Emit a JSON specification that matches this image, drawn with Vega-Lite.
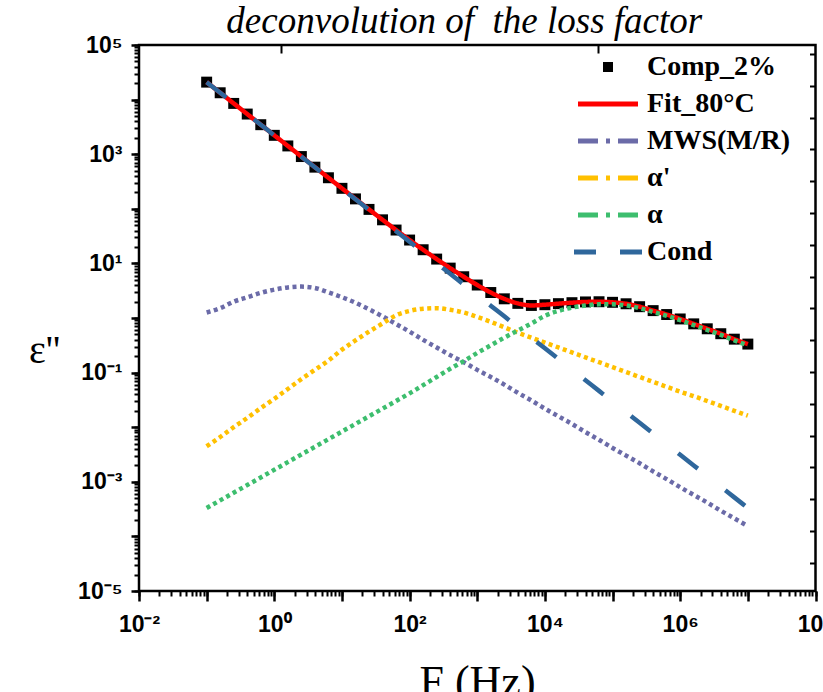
{
  "$schema": "https://vega.github.io/schema/vega-lite/v6.json",
  "width": 676.5,
  "height": 546,
  "autosize": {"type": "none"},
  "padding": {"left": 139, "top": 45, "right": 7.5, "bottom": 101},
  "background": "white",
  "title": {
    "text": "deconvolution of\u00a0 the loss factor",
    "font": "Liberation Serif",
    "fontStyle": "italic",
    "fontWeight": "normal",
    "fontSize": 37,
    "color": "black",
    "anchor": "middle",
    "frame": "group",
    "baseline": "alphabetic",
    "offset": 14,
    "dx": -13,
    "dy": 50
  },
  "data": {
    "values": [
      {"f": 0.1, "comp": 20891, "fit": 20891, "mws": 1.259, "ap": 0.004467, "a": 0.0003311, "cond": 20890},
      {"f": 0.1585, "comp": 13342, "fit": 13342, "mws": 1.514, "ap": 0.006607, "a": 0.0004571, "cond": 13340},
      {"f": 0.2512, "comp": 8513, "fit": 8513, "mws": 1.995, "ap": 0.01, "a": 0.000631, "cond": 8511},
      {"f": 0.3981, "comp": 5435, "fit": 5435, "mws": 2.399, "ap": 0.01479, "a": 0.000871, "cond": 5433},
      {"f": 0.631, "comp": 3470, "fit": 3470, "mws": 2.884, "ap": 0.02239, "a": 0.001202, "cond": 3467},
      {"f": 1, "comp": 2216, "fit": 2216, "mws": 3.311, "ap": 0.03311, "a": 0.00166, "cond": 2213},
      {"f": 1.585, "comp": 1417, "fit": 1417, "mws": 3.631, "ap": 0.05012, "a": 0.002291, "cond": 1413},
      {"f": 2.512, "comp": 905.4, "fit": 905.4, "mws": 3.758, "ap": 0.07586, "a": 0.003162, "cond": 901.6},
      {"f": 3.981, "comp": 579.1, "fit": 579.1, "mws": 3.548, "ap": 0.1122, "a": 0.004365, "cond": 575.4},
      {"f": 6.31, "comp": 370.4, "fit": 370.4, "mws": 2.951, "ap": 0.166, "a": 0.006026, "cond": 367.3},
      {"f": 10, "comp": 237.1, "fit": 237.1, "mws": 2.399, "ap": 0.263, "a": 0.008318, "cond": 234.4},
      {"f": 15.85, "comp": 151.9, "fit": 151.9, "mws": 1.905, "ap": 0.389, "a": 0.01148, "cond": 149.6},
      {"f": 25.12, "comp": 97.52, "fit": 97.52, "mws": 1.445, "ap": 0.5623, "a": 0.01585, "cond": 95.5},
      {"f": 39.81, "comp": 62.84, "fit": 62.84, "mws": 1.072, "ap": 0.7943, "a": 0.02188, "cond": 60.95},
      {"f": 63.1, "comp": 40.83, "fit": 40.83, "mws": 0.776, "ap": 1.122, "a": 0.0302, "cond": 38.9},
      {"f": 100, "comp": 26.78, "fit": 26.78, "mws": 0.5623, "ap": 1.349, "a": 0.04169, "cond": 24.83},
      {"f": 158.5, "comp": 17.79, "fit": 17.79, "mws": 0.3981, "ap": 1.479, "a": 0.05888, "cond": 15.85},
      {"f": 251.2, "comp": 12.0, "fit": 12.0, "mws": 0.2884, "ap": 1.514, "a": 0.08318, "cond": 10.12},
      {"f": 398.1, "comp": 8.197, "fit": 8.197, "mws": 0.2089, "ap": 1.413, "a": 0.1175, "cond": 6.457},
      {"f": 631, "comp": 5.697, "fit": 5.697, "mws": 0.1549, "ap": 1.259, "a": 0.1622, "cond": 4.121},
      {"f": 1000, "comp": 4.018, "fit": 4.018, "mws": 0.1122, "ap": 1.047, "a": 0.2291, "cond": 2.63},
      {"f": 1585, "comp": 2.929, "fit": 2.929, "mws": 0.08318, "ap": 0.8511, "a": 0.3162, "cond": 1.679},
      {"f": 2512, "comp": 2.245, "fit": 2.245, "mws": 0.06026, "ap": 0.6761, "a": 0.4365, "cond": 1.072},
      {"f": 3981, "comp": 1.853, "fit": 1.853, "mws": 0.04266, "ap": 0.537, "a": 0.5888, "cond": 0.684},
      {"f": 6310, "comp": 1.698, "fit": 1.698, "mws": 0.0309, "ap": 0.4365, "a": 0.7943, "cond": 0.4365},
      {"f": 10000, "comp": 1.752, "fit": 1.752, "mws": 0.02188, "ap": 0.3548, "a": 1.096, "cond": 0.2786},
      {"f": 15850, "comp": 1.831, "fit": 1.831, "mws": 0.01585, "ap": 0.2884, "a": 1.349, "cond": 0.1778},
      {"f": 25120, "comp": 1.908, "fit": 1.908, "mws": 0.01148, "ap": 0.2344, "a": 1.549, "cond": 0.1135},
      {"f": 39810, "comp": 1.969, "fit": 1.969, "mws": 0.008128, "ap": 0.1905, "a": 1.698, "cond": 0.07244},
      {"f": 63100, "comp": 1.985, "fit": 1.985, "mws": 0.005888, "ap": 0.1549, "a": 1.778, "cond": 0.04624},
      {"f": 100000, "comp": 1.938, "fit": 1.938, "mws": 0.004169, "ap": 0.1259, "a": 1.778, "cond": 0.02951},
      {"f": 158500, "comp": 1.822, "fit": 1.822, "mws": 0.00302, "ap": 0.1023, "a": 1.698, "cond": 0.01884},
      {"f": 251200, "comp": 1.611, "fit": 1.611, "mws": 0.002188, "ap": 0.08318, "a": 1.514, "cond": 0.01202},
      {"f": 398100, "comp": 1.365, "fit": 1.365, "mws": 0.001549, "ap": 0.06761, "a": 1.288, "cond": 0.007674},
      {"f": 631000, "comp": 1.157, "fit": 1.157, "mws": 0.001122, "ap": 0.05495, "a": 1.096, "cond": 0.004898},
      {"f": 1000000, "comp": 0.9606, "fit": 0.9606, "mws": 0.0007943, "ap": 0.04467, "a": 0.912, "cond": 0.003126},
      {"f": 1585000, "comp": 0.7811, "fit": 0.7811, "mws": 0.0005754, "ap": 0.03715, "a": 0.7413, "cond": 0.001995},
      {"f": 2512000, "comp": 0.6345, "fit": 0.6345, "mws": 0.0004169, "ap": 0.0302, "a": 0.6026, "cond": 0.001274},
      {"f": 3981000, "comp": 0.5155, "fit": 0.5155, "mws": 0.0002951, "ap": 0.02455, "a": 0.4898, "cond": 0.0008128},
      {"f": 6310000, "comp": 0.4097, "fit": 0.4097, "mws": 0.0002138, "ap": 0.01995, "a": 0.389, "cond": 0.0005188},
      {"f": 10000000, "comp": 0.3329, "fit": 0.3329, "mws": 0.0001549, "ap": 0.01622, "a": 0.3162, "cond": 0.0003311}
    ]
  },
  "layer": [
    {
      "transform": [{"fold": ["comp"], "as": ["key", "value"]}],
      "mark": {"type": "point", "shape": "square", "filled": true, "size": 120, "opacity": 1},
      "encoding": {
        "x": {"field": "f", "type": "quantitative",
          "scale": {"type": "log", "domain": [0.01, 100000000]},
          "axis": {"orient": "bottom", "tickCount": 50, "labels": false, "tickSize": 5, "tickWidth": 2, "tickColor": "black", "title": null, "domain": false, "grid": false}},
        "y": {"field": "value", "type": "quantitative",
          "scale": {"type": "log", "domain": [0.00001, 100000]},
          "axis": {"orient": "left", "tickCount": 50, "labels": false, "tickSize": 5, "tickWidth": 2, "tickColor": "black", "title": null, "domain": false, "grid": false}},
        "color": {"field": "key", "type": "nominal",
          "scale": {"domain": ["comp", "fit", "mws", "ap", "a", "cond"], "range": ["#000000", "#FF0000", "#6B6BA8", "#FFC000", "#3DBE6E", "#2F679C"]}}
      }
    },
    {
      "transform": [{"fold": ["fit", "mws", "ap", "a", "cond"], "as": ["key", "value"]}],
      "mark": {"type": "line", "strokeWidth": 4.5, "interpolate": "monotone"},
      "encoding": {
        "x": {"field": "f", "type": "quantitative",
          "scale": {"type": "log", "domain": [0.01, 100000000]},
          "axis": {"orient": "bottom",
            "values": [0.01, 0.1, 1, 10, 100, 1000, 10000, 100000, 1000000, 10000000, 100000000],
            "tickSize": 10, "tickWidth": 2.5, "tickColor": "black", "domain": false, "grid": false,
            "labelExpr": "datum.value < 0.05 ? '10⁻²' : (datum.value > 0.5 && datum.value < 5) ? '10⁰' : (datum.value > 50 && datum.value < 500) ? '10²' : (datum.value > 5000 && datum.value < 50000) ? '10⁴' : (datum.value > 500000 && datum.value < 5000000) ? '10⁶' : datum.value > 50000000 ? '10⁸' : ''",
            "labelFont": "Liberation Sans", "labelFontSize": 23, "labelFontWeight": "bold", "labelColor": "black",
            "labelPadding": 12, "labelFlush": false, "labelOverlap": false,
            "title": "F (Hz)", "titleFont": "Liberation Serif", "titleFontSize": 44, "titleFontWeight": "normal", "titleColor": "black",
            "titleBaseline": "alphabetic", "titleAlign": "center", "titleX": 338, "titleY": 104}},
        "y": {"field": "value", "type": "quantitative",
          "scale": {"type": "log", "domain": [0.00001, 100000]},
          "axis": {"orient": "left",
            "values": [0.00001, 0.0001, 0.001, 0.01, 0.1, 1, 10, 100, 1000, 10000, 100000],
            "tickSize": 8, "tickWidth": 2.5, "tickColor": "black", "domain": false, "grid": false,
            "labelExpr": "datum.value < 0.00005 ? '10⁻⁵' : (datum.value > 0.0005 && datum.value < 0.005) ? '10⁻³' : (datum.value > 0.05 && datum.value < 0.5) ? '10⁻¹' : (datum.value > 5 && datum.value < 50) ? '10¹' : (datum.value > 500 && datum.value < 5000) ? '10³' : datum.value > 50000 ? '10⁵' : ''",
            "labelFont": "Liberation Sans", "labelFontSize": 23, "labelFontWeight": "bold", "labelColor": "black",
            "labelPadding": 9, "labelFlush": false, "labelOverlap": false,
            "title": "ε''", "titleFont": "Liberation Serif", "titleFontSize": 40, "titleFontWeight": "normal", "titleColor": "black",
            "titleAngle": 0, "titleAlign": "center", "titleBaseline": "middle", "titleX": -95, "titleY": 305}},
        "color": {"field": "key", "type": "nominal",
          "scale": {"domain": ["comp", "fit", "mws", "ap", "a", "cond"], "range": ["#000000", "#FF0000", "#6B6BA8", "#FFC000", "#3DBE6E", "#2F679C"]},
          "legend": {
            "orient": "none", "legendX": 455, "legendY": 8, "padding": 0,
            "title": null,
            "labelExpr": "datum.label == 'comp' ? 'Comp_2%' : datum.label == 'fit' ? 'Fit_80°C' : datum.label == 'mws' ? 'MWS(M/R)' : datum.label == 'ap' ? \"α'\" : datum.label == 'a' ? 'α' : 'Cond'",
            "labelFont": "Liberation Serif", "labelFontSize": 28, "labelFontWeight": "bold", "labelColor": "black",
            "labelOffset": 25, "rowPadding": 9,
            "symbolType": "stroke", "symbolSize": 100, "symbolStrokeWidth": 5, "symbolOpacity": 1,
            "encode": {
              "symbols": {
                "update": {
                  "shape": {"signal": "datum.value == 'comp' ? 'square' : 'stroke'"},
                  "size": {"signal": "datum.value == 'comp' ? 100 : datum.value == 'cond' ? 4624 : 3600"},
                  "fill": {"signal": "datum.value == 'comp' ? '#000000' : 'transparent'"},
                  "strokeWidth": {"signal": "datum.value == 'comp' ? 0 : 5"},
                  "strokeDash": {"signal": "datum.value == 'cond' ? [22, 24] : (datum.value == 'mws' || datum.value == 'ap' || datum.value == 'a') ? [20, 8, 4, 8] : [1, 0]"}
                }
              }
            }
          }},
        "strokeDash": {"field": "key", "type": "nominal",
          "scale": {"domain": ["fit", "mws", "ap", "a", "cond"], "range": [[1, 0], [4, 3.5], [4, 3.5], [4, 3.5], [25, 35]]},
          "legend": null}
      }
    },
    {
      "mark": {"type": "point", "opacity": 0},
      "encoding": {
        "x": {"field": "f", "type": "quantitative",
          "scale": {"type": "log", "domain": [0.01, 100000000]},
          "axis": {"orient": "top", "values": [1.256, 60950], "tickSize": -8, "tickWidth": 2, "tickColor": "black", "labels": false, "title": null, "domain": false, "grid": false}},
        "y": {"field": "fit", "type": "quantitative",
          "scale": {"type": "log", "domain": [0.00001, 100000]},
          "axis": {"orient": "right", "values": [68400, 17890, 4680, 1224, 320.2, 83.75, 21.91, 5.731, 1.499, 0.392, 0.1026, 0.02683, 0.007018, 0.001836, 0.00048, 0.0001256, 0.00003285],
            "tickSize": -6, "tickWidth": 2, "tickColor": "black", "labels": false, "title": null, "domain": false, "grid": false}}
      }
    }
  ],
  "resolve": {"axis": {"x": "independent", "y": "independent"}},
  "config": {
    "font": "Liberation Sans",
    "view": {"stroke": "#000000", "strokeWidth": 2.5},
    "axis": {"grid": false},
    "legend": {"labelFont": "Liberation Serif", "labelFontWeight": "bold", "labelFontSize": 28, "labelColor": "black"}
  }
}
